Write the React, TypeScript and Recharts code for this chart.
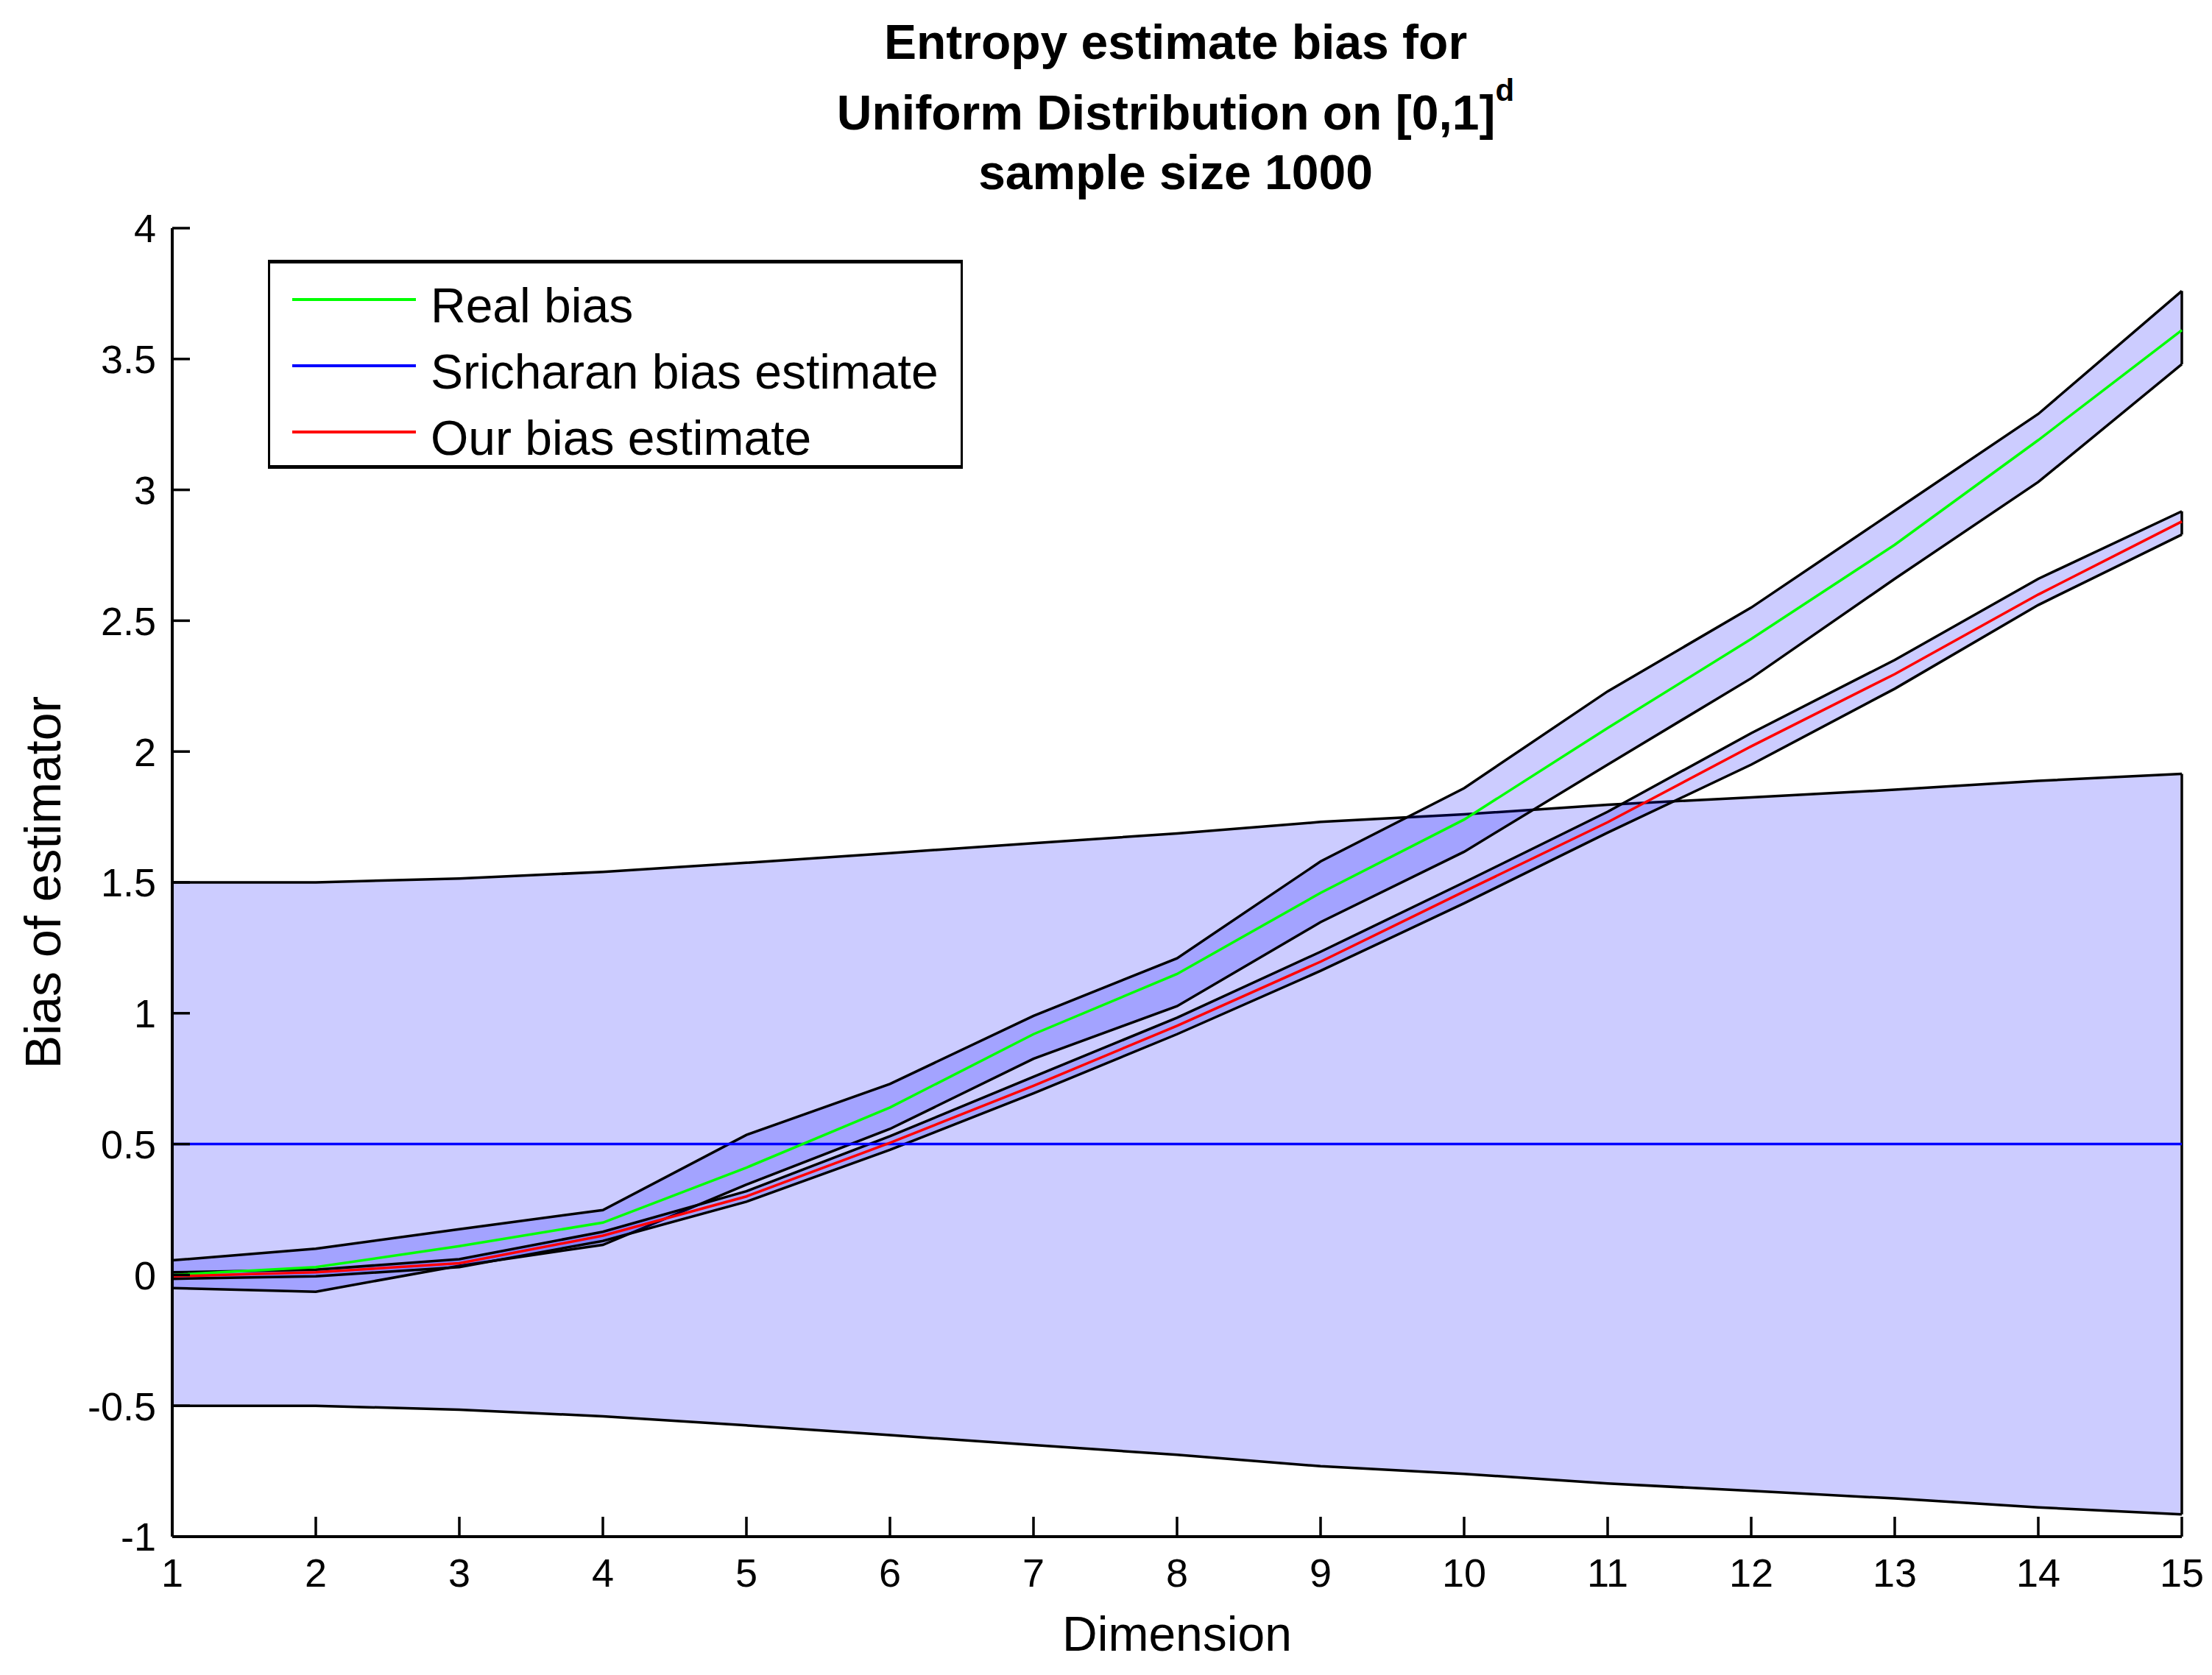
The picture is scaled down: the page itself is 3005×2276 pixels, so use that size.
import React from 'react';
import { ComposedChart, Area, Line, XAxis, YAxis, Legend, ReferenceLine } from 'recharts';

const FONT = '"Liberation Sans", Arial, Helvetica, sans-serif';

const dims = [1, 2, 3, 4, 5, 6, 7, 8, 9, 10, 11, 12, 13, 14, 15];

// real bias (green) with its band
const realBias = [0.0, 0.03, 0.11, 0.2, 0.41, 0.64, 0.92, 1.15, 1.46, 1.74, 2.09, 2.43, 2.79, 3.19, 3.61];
const realUpper = [0.056, 0.1, 0.175, 0.248, 0.535, 0.73, 0.99, 1.21, 1.58, 1.86, 2.23, 2.55, 2.92, 3.29, 3.76];
const realLower = [-0.05, -0.064, 0.035, 0.115, 0.345, 0.558, 0.826, 1.027, 1.348, 1.617, 1.95, 2.28, 2.66, 3.03, 3.48];

// our estimate (red) with its band
const oursBias = [-0.005, 0.01, 0.045, 0.15, 0.3, 0.505, 0.723, 0.952, 1.197, 1.465, 1.73, 2.02, 2.296, 2.6, 2.879];
const oursUpper = [0.01, 0.02, 0.06, 0.165, 0.32, 0.53, 0.757, 0.983, 1.235, 1.5, 1.77, 2.07, 2.35, 2.66, 2.918];
const oursLower = [-0.015, -0.005, 0.03, 0.13, 0.28, 0.478, 0.694, 0.92, 1.162, 1.42, 1.69, 1.95, 2.24, 2.56, 2.829];

// Sricharan estimate (blue) with its band
const sriBias = [0.5, 0.5, 0.5, 0.5, 0.5, 0.5, 0.5, 0.5, 0.5, 0.5, 0.5, 0.5, 0.5, 0.5, 0.5];
const sriUpper = [1.5, 1.5, 1.515, 1.54, 1.575, 1.612, 1.65, 1.687, 1.731, 1.76, 1.797, 1.825, 1.854, 1.888, 1.915];
const sriLower = [-0.5, -0.5, -0.515, -0.54, -0.575, -0.612, -0.65, -0.687, -0.731, -0.76, -0.797, -0.825, -0.854, -0.888, -0.915];

const yTicks = [-1, -0.5, 0, 0.5, 1, 1.5, 2, 2.5, 3, 3.5, 4];

const legendItems = [
  { name: 'Real bias', color: '#00ff00' },
  { name: 'Sricharan bias estimate', color: '#0000ff' },
  { name: 'Our bias estimate', color: '#ff0000' },
];

const data = dims.map((d, i) => ({
  dim: d,
  real: realBias[i],
  realBand: [realLower[i], realUpper[i]],
  ours: oursBias[i],
  oursBand: [oursLower[i], oursUpper[i]],
  sri: sriBias[i],
  sriBand: [sriLower[i], sriUpper[i]],
}));

const last = dims.length - 1;
const bandEnds = [
  [sriLower[last], sriUpper[last]],
  [realLower[last], realUpper[last]],
  [oursLower[last], oursUpper[last]],
];

const XTick = (props: any) => {
  const { x, y, payload } = props;
  return (
    <g>
      <line x1={x} x2={x} y1={y} y2={y - 27} stroke="#000" strokeWidth={3.5} />
      <text x={x} y={y + 68} textAnchor="middle" fontSize={54} fontFamily={FONT} fill="#000">
        {payload.value}
      </text>
    </g>
  );
};

const YTick = (props: any) => {
  const { x, y, payload } = props;
  return (
    <g>
      <line x1={x} x2={x + 24} y1={y} y2={y} stroke="#000" strokeWidth={3.5} />
      <text x={x - 22} y={y} dy="0.36em" textAnchor="end" fontSize={54} fontFamily={FONT} fill="#000">
        {payload.value}
      </text>
    </g>
  );
};

const renderLegend = () => (
  <div
    style={{
      position: 'relative',
      width: 944,
      height: 284,
      boxSizing: 'border-box',
      border: '3px solid #000',
      borderTopWidth: 5,
      borderBottomWidth: 5,
      background: '#fff',
      fontFamily: FONT,
    }}
  >
    {legendItems.map((item, i) => (
      <div
        key={item.name}
        style={{
          position: 'absolute',
          left: 30,
          top: 12 + i * 90,
          height: 90,
          display: 'flex',
          alignItems: 'center',
        }}
      >
        <div style={{ width: 168, height: 4, background: item.color, marginRight: 20, transform: 'translateY(-8px)' }} />
        <span style={{ fontSize: 66, lineHeight: 1, color: '#000', whiteSpace: 'nowrap' }}>{item.name}</span>
      </div>
    ))}
  </div>
);

const bandStyle = {
  type: 'linear' as const,
  fill: '#0000ff',
  fillOpacity: 0.2,
  stroke: '#000',
  strokeWidth: 3.5,
  dot: false,
  activeDot: false,
  isAnimationActive: false,
};

export default function App() {
  return (
    <div style={{ position: 'absolute', left: 0, top: 0, width: 3005, height: 2276, background: '#fff' }}>
      <ComposedChart width={3005} height={2276} data={data} margin={{ top: 310, right: 41, bottom: 0, left: 0 }}>
        <XAxis
          dataKey="dim"
          type="number"
          domain={[1, 15]}
          ticks={dims}
          interval={0}
          height={188}
          tickSize={0}
          tickMargin={0}
          tickLine={false}
          tick={<XTick />}
          axisLine={{ stroke: '#000', strokeWidth: 4 }}
          label={{ value: 'Dimension', position: 'insideBottom', offset: 33, fontSize: 66, fontFamily: FONT, fill: '#000' }}
        />
        <YAxis
          type="number"
          domain={[-1, 4]}
          ticks={yTicks}
          interval={0}
          width={234}
          tickSize={0}
          tickMargin={0}
          tickLine={false}
          tick={<YTick />}
          axisLine={{ stroke: '#000', strokeWidth: 4 }}
          label={{
            value: 'Bias of estimator',
            angle: -90,
            position: 'insideLeft',
            offset: 58,
            fontSize: 68,
            fontFamily: FONT,
            fill: '#000',
            style: { textAnchor: 'middle' },
          }}
        />
        <Area dataKey="sriBand" {...bandStyle} />
        <Area dataKey="realBand" {...bandStyle} />
        <Area dataKey="oursBand" {...bandStyle} />
        {bandEnds.map((b, i) => (
          <ReferenceLine
            key={i}
            segment={[
              { x: dims[last], y: b[0] },
              { x: dims[last], y: b[1] },
            ]}
            stroke="#000"
            strokeWidth={3.5}
          />
        ))}
        <Line dataKey="sri" stroke="#0000ff" strokeWidth={3.5} dot={false} activeDot={false} isAnimationActive={false} />
        <Line dataKey="real" stroke="#00ff00" strokeWidth={3.5} dot={false} activeDot={false} isAnimationActive={false} />
        <Line dataKey="ours" stroke="#ff0000" strokeWidth={3.5} dot={false} activeDot={false} isAnimationActive={false} />
        <Legend
          layout="horizontal"
          align="center"
          verticalAlign="middle"
          content={renderLegend}
          wrapperStyle={{ left: 364, top: 353, width: 944, height: 284 }}
        />
      </ComposedChart>
      <svg
        width={3005}
        height={300}
        style={{ position: 'absolute', left: 0, top: 0, pointerEvents: 'none' }}
      >
        <g fontFamily={FONT} fontWeight="bold" fontSize={66} fill="#000" textAnchor="middle">
          <text x={1597} y={80}>Entropy estimate bias for</text>
          <text x={1597} y={176}>
            Uniform Distribution on [0,1]
            <tspan dy={-39} fontSize={42}>d</tspan>
          </text>
          <text x={1597} y={257}>sample size 1000</text>
        </g>
      </svg>
    </div>
  );
}
